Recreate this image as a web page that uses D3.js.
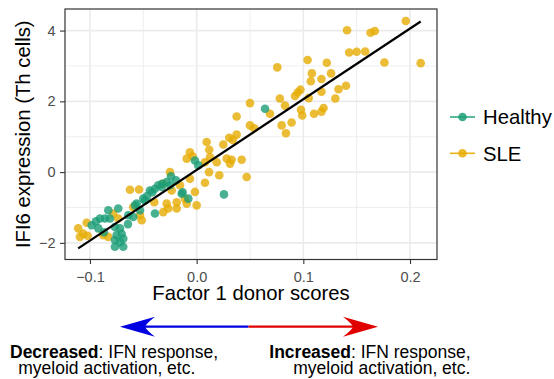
<!DOCTYPE html>
<html>
<head>
<meta charset="utf-8">
<script src="https://cdn.jsdelivr.net/npm/d3@7.9.0/dist/d3.min.js"></script>
<style>
  body { margin: 0; background: #fff; }
  svg { display: block; font-family: 'Liberation Sans', Arial, sans-serif; }
</style>
</head>
<body>
<svg id="chart" width="554" height="379"></svg>
<script>
// factor 1 donor scores (x) and IFI6 expression (y)
const healthyX = [0.0641, 0.0256, -0.0016, 0.0015, -0.0131, -0.0078, -0.0281, -0.0325, -0.036, -0.0391,
  -0.0438, -0.0328, -0.0416, -0.0484, -0.05, -0.0562, -0.0578, -0.0391, -0.0594, -0.0641,
  -0.0828, -0.0735, -0.0859, -0.0813, -0.0906, -0.0984, -0.0922, -0.0766, -0.0719, -0.075,
  -0.0703, -0.0688, -0.0766, -0.0766, -0.0688, -0.0719, -0.014, -0.0531, -0.0644, -0.0869,
  -0.025, -0.0194, -0.024, -0.0466, -0.0944];
const healthyY = [1.79, -0.63, 0.33, 0.19, -0.57, -0.75, -0.28, -0.33, -0.37, -0.47,
  -0.52, -0.42, -0.57, -0.80, -0.75, -0.89, -0.94, -1.17, -1.27, -1.22,
  -1.08, -1.03, -1.31, -1.31, -1.31, -1.50, -1.59, -1.55, -1.59, -1.78,
  -1.74, -1.88, -1.92, -2.11, -2.11, -1.98, -0.61, -1.08, -1.47, -1.70,
  -0.37, -0.23, -0.12, -0.68, -1.39];

const sleX = [0.196, 0.141, 0.163, 0.167, 0.143, 0.150, 0.158, 0.176, 0.210, 0.122,
  0.104, 0.0756, 0.108, 0.126, 0.117, 0.107, 0.140, 0.133, 0.0973, 0.0947,
  0.117, 0.0922, 0.078, 0.130, 0.105, 0.119, 0.117, 0.050, 0.0687, 0.0828,
  0.0978, 0.099, 0.110, 0.050, 0.054, 0.0797, 0.089, 0.0837, 0.0375, 0.0375,
  0.0306, 0.0338, 0.025, 0.0094, 0.0118, -0.0063, -0.0037, 0.0125, 0.0078, 0.0188,
  0.0282, 0.0328, 0.0313, 0.0422, 0.0116, 0.0212, 0.0469, -0.0063, 0.0078, -0.0093,
  -0.025, 0.0, -0.0093, -0.011, -0.0016, -0.0234, -0.0625, -0.054, -0.0281, -0.0187,
  -0.0187, -0.0266, -0.0313, -0.0531, -0.0515, -0.0594, -0.0397, -0.0782, -0.0735, -0.1031,
  -0.111, -0.1063, -0.1094, -0.1022, -0.0828, -0.0875, -0.0156, -0.0313];
const sleY = [4.27, 4.01, 3.94, 3.99, 3.38, 3.40, 3.41, 3.10, 3.08, 3.09,
  3.17, 2.96, 2.79, 2.79, 2.63, 2.57, 2.44, 2.34, 2.33, 2.25,
  2.27, 2.15, 2.08, 2.08, 2.09, 1.81, 1.71, 1.95, 1.65, 1.88,
  1.76, 1.60, 1.65, 1.32, 1.24, 1.32, 1.40, 1.10, 1.57, 1.06,
  0.97, 0.91, 0.78, 0.85, 0.63, 0.56, 0.44, 0.42, 0.28, 0.28,
  0.38, 0.35, 0.24, 0.35, 0.00, -0.09, -0.14, -0.19, -0.30, 0.38,
  0.00, -0.94, -0.89, -0.75, -0.56, -0.52, -0.50, -0.49, -0.89, -0.85,
  -1.03, -1.03, -1.13, -1.22, -1.36, -0.99, -0.85, -1.17, -1.31, -1.43,
  -1.59, -1.74, -1.83, -1.80, -1.83, -1.78, -0.37, -0.33];

const groups = ['Healthy', 'SLE'];
const groupColors = ['#1b9e77', '#e6ab02'];
const xTicks = [-0.1, 0.0, 0.1, 0.2];
const xMinor = [-0.05, 0.05, 0.15];
const yTicks = [-2, 0, 2, 4];
const yMinor = [-1, 1, 3];

const svg = d3.select('#chart');
const panel = { left: 65, top: 9, right: 437, bottom: 259.5 };

const x = d3.scaleLinear().domain([-0.1234, 0.2253]).range([panel.left, panel.right]);
const y = d3.scaleLinear().domain([-2.47, 4.61]).range([panel.bottom, panel.top]);
const color = d3.scaleOrdinal().domain(groups).range(groupColors);

const points = [
  ...sleX.map((v, i) => ({ x: v, y: sleY[i], group: 'SLE' })),
  ...healthyX.map((v, i) => ({ x: v, y: healthyY[i], group: 'Healthy' })),
];

// grid
const grid = svg.append('g');
grid.selectAll('.vminor').data(xMinor).join('line')
  .attr('x1', (d) => x(d)).attr('x2', (d) => x(d))
  .attr('y1', panel.top).attr('y2', panel.bottom)
  .attr('stroke', '#ebebeb').attr('stroke-width', 0.8);
grid.selectAll('.hminor').data(yMinor).join('line')
  .attr('y1', (d) => y(d)).attr('y2', (d) => y(d))
  .attr('x1', panel.left).attr('x2', panel.right)
  .attr('stroke', '#ebebeb').attr('stroke-width', 0.8);
grid.selectAll('.vmajor').data(xTicks).join('line')
  .attr('x1', (d) => x(d)).attr('x2', (d) => x(d))
  .attr('y1', panel.top).attr('y2', panel.bottom)
  .attr('stroke', '#ebebeb').attr('stroke-width', 1.6);
grid.selectAll('.hmajor').data(yTicks).join('line')
  .attr('y1', (d) => y(d)).attr('y2', (d) => y(d))
  .attr('x1', panel.left).attr('x2', panel.right)
  .attr('stroke', '#ebebeb').attr('stroke-width', 1.6);

// points
svg.append('g').selectAll('circle').data(points).join('circle')
  .attr('cx', (d) => x(d.x))
  .attr('cy', (d) => y(d.y))
  .attr('r', 4.3)
  .attr('fill', (d) => color(d.group))
  .attr('fill-opacity', 0.8);

// least squares line over all donors
const mx = d3.mean(points, (d) => d.x);
const my = d3.mean(points, (d) => d.y);
const slope = d3.sum(points, (d) => (d.x - mx) * (d.y - my)) / d3.sum(points, (d) => (d.x - mx) ** 2);
const intercept = my - slope * mx;
const [xMin, xMax] = d3.extent(points, (d) => d.x);
svg.append('line')
  .attr('x1', x(xMin)).attr('y1', y(intercept + slope * xMin))
  .attr('x2', x(xMax)).attr('y2', y(intercept + slope * xMax))
  .attr('stroke', '#000').attr('stroke-width', 2.2);

// border
svg.append('rect')
  .attr('x', panel.left).attr('y', panel.top)
  .attr('width', panel.right - panel.left).attr('height', panel.bottom - panel.top)
  .attr('fill', 'none').attr('stroke', '#333').attr('stroke-width', 1.2);

// axes
const xAxis = svg.append('g')
  .attr('transform', `translate(0,${panel.bottom})`)
  .call(d3.axisBottom(x).tickValues(xTicks).tickFormat(d3.format('.1f')).tickSize(4.5).tickPadding(7.5));
const yAxis = svg.append('g')
  .attr('transform', `translate(${panel.left},0)`)
  .call(d3.axisLeft(y).tickValues(yTicks).tickFormat((d) => d3.format('d')(d)).tickSize(5).tickPadding(4.5));
[xAxis, yAxis].forEach((g) => {
  g.select('.domain').remove();
  g.selectAll('line').attr('stroke', '#333').attr('stroke-width', 1.1);
  g.selectAll('text').attr('fill', '#4d4d4d').style('font-size', '14.5px').style('font-family', "'Liberation Sans', Arial, sans-serif");
});

svg.append('text')
  .attr('x', (panel.left + panel.right) / 2).attr('y', 300)
  .attr('text-anchor', 'middle').style('font-size', '20.3px').attr('fill', '#000')
  .text('Factor 1 donor scores');
svg.append('text')
  .attr('transform', `translate(30,${(panel.top + panel.bottom) / 2}) rotate(-90)`)
  .attr('text-anchor', 'middle').style('font-size', '20.3px').attr('fill', '#000')
  .text('IFI6 expression (Th cells)');

// legend
const legend = svg.append('g').selectAll('g').data(groups).join('g')
  .attr('transform', (d, i) => `translate(450,${117 + i * 36.3})`);
legend.append('line').attr('x1', 0).attr('x2', 25)
  .attr('stroke', (d) => color(d)).attr('stroke-width', 1.6).attr('stroke-opacity', 0.9);
legend.append('circle').attr('cx', 12.5).attr('r', 4.3)
  .attr('fill', (d) => color(d)).attr('fill-opacity', 0.85);
legend.append('text').attr('x', 33).attr('dy', '0.36em')
  .style('font-size', '20.3px').attr('fill', '#000').text((d) => d);

// direction arrow
const arrowY = 326.7;
const arrowMid = 248.5;
svg.append('line').attr('x1', 140).attr('x2', arrowMid).attr('y1', arrowY).attr('y2', arrowY)
  .attr('stroke', '#0000e0').attr('stroke-width', 2.2);
svg.append('line').attr('x1', arrowMid).attr('x2', 358).attr('y1', arrowY).attr('y2', arrowY)
  .attr('stroke', '#e00000').attr('stroke-width', 2.2);
svg.append('path')
  .attr('d', `M120,${arrowY} L155,${arrowY - 10} Q146,${arrowY - 3} 145,${arrowY} Q146,${arrowY + 3} 155,${arrowY + 10} Z`)
  .attr('fill', '#0000e0');
svg.append('path')
  .attr('d', `M378,${arrowY} L343,${arrowY - 10} Q352,${arrowY - 3} 353,${arrowY} Q352,${arrowY + 3} 343,${arrowY + 10} Z`)
  .attr('fill', '#e00000');

const notes = [
  { x: 10, y: 358.3, bold: 'Decreased', rest: ': IFN response,' },
  { x: 18.3, y: 374.3, bold: '', rest: 'myeloid activation, etc.' },
  { x: 269.3, y: 358.3, bold: 'Increased', rest: ': IFN response,' },
  { x: 293.3, y: 374.3, bold: '', rest: 'myeloid activation, etc.' },
];
notes.forEach((n) => {
  const t = svg.append('text').attr('x', n.x).attr('y', n.y)
    .style('font-size', '17.5px').attr('fill', '#000');
  if (n.bold) t.append('tspan').attr('font-weight', 'bold').text(n.bold);
  t.append('tspan').text(n.rest);
});
</script>
</body>
</html>
